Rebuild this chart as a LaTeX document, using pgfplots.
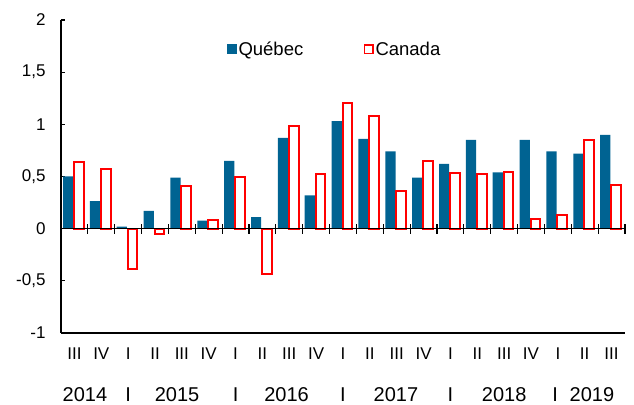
\documentclass[border=0pt]{standalone}
\usepackage{pgfplots}
\pgfplotsset{compat=1.18}
\usepackage{fontspec}
\setmainfont{Liberation Sans}
\definecolor{quebec}{RGB}{0,99,146}
\definecolor{canred}{RGB}{255,0,0}
\begin{document}
\begin{tikzpicture}[font=\fontsize{17}{20}\selectfont]
\useasboundingbox (-61pt,-71pt) rectangle (573pt,333pt);
\begin{axis}[
  at={(0pt,0pt)}, anchor=south west,
  scale only axis, width=564pt, height=313pt,
  xmin=-0.5, xmax=20.5, ymin=-1, ymax=2,
  axis x line*=bottom, axis y line*=left,
  axis line style={-, line width=1.4pt, black},
  clip=false,
  ybar, bar width=0.38,
  xtick={0,...,20},
  xticklabels={III,IV,I,II,III,IV,I,II,III,IV,I,II,III,IV,I,II,III,IV,I,II,III},
  xtick style={draw=none},
  xticklabel style={yshift=-11pt, font=\fontsize{17}{20}\selectfont},
  ytick={-1,-0.5,0,0.5,1,1.5,2},
  yticklabels={-1,{-0,5},0,{0,5},1,{1,5},2},
  yticklabel style={xshift=-12pt, font=\fontsize{17}{20}\selectfont},
  ytick style={line width=1.2pt, black},
  tick align=inside, major tick length=4pt,
  legend columns=2,
  legend style={draw=none, fill=none, inner sep=0pt, at={(rel axis cs:0.294,0.906)}, anchor=west,
    nodes={inner sep=1.5pt}, font=\fontsize{18.5}{21}\selectfont},
  /tikz/every even column/.append style={column sep=59pt},
  legend image code/.code={\draw[#1, line width=1.6pt] (0pt,-4.2pt) rectangle (8.6pt,4.2pt);},
]
\addplot[fill=quebec, draw=none, bar shift=-0.235, bar width=0.38,
  legend image code/.code={\fill[quebec] (0pt,-5pt) rectangle (10pt,5pt);}]
coordinates {(0,0.50) (1,0.265) (2,0.02) (3,0.17) (4,0.49) (5,0.077) (6,0.65) (7,0.11) (8,0.87) (9,0.32) (10,1.03) (11,0.86) (12,0.74) (13,0.49) (14,0.62) (15,0.85) (16,0.54) (17,0.85) (18,0.74) (19,0.72) (20,0.90)};
\addlegendentry{Québec}
\addplot[fill=white, draw=canred, line width=2pt, bar shift=0.165, bar width=0.36]
coordinates {(0,0.64) (1,0.57) (2,-0.39) (3,-0.05) (4,0.41) (5,0.08) (6,0.495) (7,-0.43) (8,0.98) (9,0.52) (10,1.20) (11,1.08) (12,0.36) (13,0.65) (14,0.53) (15,0.52) (16,0.54) (17,0.09) (18,0.13) (19,0.85) (20,0.42)};
\addlegendentry{Canada}
\draw[line width=1.6pt, black] (axis cs:-0.5,0) -- (axis cs:20.5,0);
\pgfplotsinvokeforeach{0.5,1.5,2.5,3.5,4.5,5.5,6.5,7.5,8.5,9.5,10.5,11.5,12.5,13.5,14.5,15.5,16.5,17.5,18.5,19.5,20.5}{
  \draw[line width=1.2pt, black] (axis cs:#1,0) ++(0pt,-5pt) -- ++(0pt,10pt);
}
\tikzset{yr/.style={anchor=base, inner sep=0pt, font=\fontsize{20}{24}\selectfont, yshift=-68pt}}
\node[yr] at (axis cs:0.39,-1) {2014};
\node[yr] at (axis cs:3.82,-1) {2015};
\node[yr] at (axis cs:7.9,-1) {2016};
\node[yr] at (axis cs:11.97,-1) {2017};
\node[yr] at (axis cs:16.0,-1) {2018};
\node[yr] at (axis cs:19.27,-1) {2019};
\node[yr] at (axis cs:2,-1) {I};
\node[yr] at (axis cs:6,-1) {I};
\node[yr] at (axis cs:10,-1) {I};
\node[yr] at (axis cs:14,-1) {I};
\node[yr] at (axis cs:17.9,-1) {I};
\end{axis}
\end{tikzpicture}
\end{document}
